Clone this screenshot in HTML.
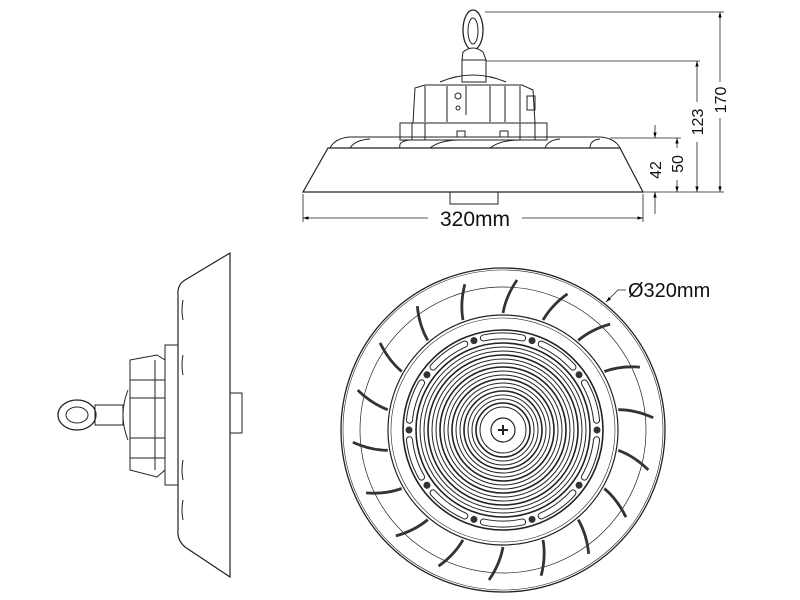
<!DOCTYPE html>
<html><head><meta charset="utf-8"><style>
html,body{margin:0;padding:0;background:#fff;}
svg{display:block;font-family:"Liberation Sans",Arial,sans-serif;}
</style></head><body>
<svg width="800" height="600" viewBox="0 0 800 600" xmlns="http://www.w3.org/2000/svg">
<defs>
<marker id="a" viewBox="0 0 10 10" refX="10" refY="5" markerWidth="7" markerHeight="7" orient="auto-start-reverse"><path d="M0,2 L10,5 L0,8 z" fill="#000"/></marker>
<path id="fin" d="M0,-117 Q3,-134 14,-150"/>
<path id="slot" d="M-19.6,-92 A94,94 0 0 1 19.6,-92"/>
</defs>
<g fill="none" stroke="#222" stroke-width="1">
<!-- TOP ELEVATION -->
<ellipse cx="473" cy="30" rx="10" ry="20" stroke-width="1.3"/>
<ellipse cx="473" cy="31" rx="5" ry="13"/>
<path d="M463,52 Q473,44 483,52 L486,60 L462,60 Z" fill="#fff"/>
<rect x="462" y="60" width="24" height="22"/>
<path d="M440,82 Q473,68 506,82"/>
<path d="M413,123 L415,88 L425,85 L522,85 L533,90 L535,123 Z"/>
<line x1="425" y1="86" x2="425" y2="122"/><line x1="447" y1="86" x2="447" y2="122"/>
<line x1="466" y1="86" x2="466" y2="115"/><line x1="490" y1="86" x2="490" y2="122"/>
<line x1="505" y1="86" x2="505" y2="122"/><line x1="520" y1="86" x2="520" y2="122"/>
<circle cx="458" cy="96" r="3"/><circle cx="458" cy="108" r="2"/>
<rect x="527" y="96" width="8" height="14"/>
<rect x="400" y="123" width="147" height="17"/>
<line x1="412" y1="123" x2="412" y2="140"/><line x1="425" y1="123" x2="425" y2="140"/><line x1="520" y1="123" x2="520" y2="140"/><line x1="535" y1="123" x2="535" y2="140"/>
<rect x="457" y="131" width="8" height="6"/><rect x="500" y="131" width="8" height="6"/>
<path d="M330,148 Q335,138 350,137 L600,137 Q615,138 620,148"/>
<path d="M350,148 Q355,140 370,139 M400,148 Q398,141 410,140 M430,148 Q440,140 460,140 M490,148 Q500,140 520,140 M545,148 Q548,140 560,139 M590,148 Q590,140 600,139"/>
<path d="M328,148 L620,148 L643,192 L303,192 Z" stroke-width="1.2"/>
<rect x="450" y="192" width="48" height="12"/>
<g stroke-width="0.8">
<line x1="485" y1="12" x2="724" y2="12"/>
<line x1="486" y1="61" x2="700" y2="61"/>
<line x1="610" y1="138" x2="681" y2="138"/>
<line x1="643" y1="192" x2="724" y2="192"/>
<line x1="303" y1="194" x2="303" y2="222"/><line x1="643" y1="194" x2="643" y2="222"/>
<line x1="720" y1="12" x2="720" y2="82" marker-start="url(#a)"/><line x1="720" y1="118" x2="720" y2="192" marker-end="url(#a)"/>
<line x1="697" y1="61" x2="697" y2="102" marker-start="url(#a)"/><line x1="697" y1="142" x2="697" y2="192" marker-end="url(#a)"/>
<line x1="677" y1="138" x2="677" y2="148" marker-start="url(#a)"/><line x1="677" y1="180" x2="677" y2="192" marker-end="url(#a)"/>
<line x1="655" y1="125" x2="655" y2="138" marker-end="url(#a)"/><line x1="655" y1="192" x2="655" y2="214" marker-start="url(#a)"/>
<line x1="303" y1="218" x2="428" y2="218" marker-start="url(#a)"/><line x1="522" y1="218" x2="643" y2="218" marker-end="url(#a)"/>
</g>
</g>
<text x="475" y="226" text-anchor="middle" font-size="21" fill="#111">320mm</text>
<g fill="#111" font-size="16" text-anchor="middle">
<text transform="translate(726,100) rotate(-90)">170</text>
<text transform="translate(703,122) rotate(-90)">123</text>
<text transform="translate(683,164) rotate(-90)">50</text>
<text transform="translate(661,170) rotate(-90)">42</text>
</g>

<!-- SIDE VIEW -->
<g fill="none" stroke="#222" stroke-width="1">
<path d="M230,253 L230,577 L185,547 Q177,540 178,530 L178,295 Q177,285 185,280 Z" stroke-width="1.2"/>
<path d="M183,300 Q181,310 183,320 M183,355 Q181,365 183,375 M183,460 Q181,470 183,480 M183,500 Q181,510 183,520"/>
<rect x="230" y="393" width="12" height="40"/>
<rect x="165" y="345" width="13" height="140"/>
<path d="M130,360 L157,355 L165,360 L165,470 L157,477 L130,470 Z"/>
<line x1="130" y1="380" x2="165" y2="380"/><line x1="130" y1="398" x2="165" y2="398"/>
<line x1="130" y1="438" x2="165" y2="438"/><line x1="130" y1="458" x2="165" y2="458"/>
<line x1="155" y1="360" x2="155" y2="470"/>
<path d="M128,390 Q118,415 128,440"/>
<rect x="95" y="405" width="28" height="20"/>
<ellipse cx="77" cy="415" rx="19" ry="15" stroke-width="1.3"/>
<ellipse cx="77" cy="415" rx="11" ry="8"/>
</g>

<!-- BOTTOM VIEW -->
<g fill="none" stroke="#222" transform="translate(503,430)">
<circle r="162" stroke-width="1.3"/>
<circle r="160" stroke-width="0.6"/>
<circle r="143" stroke-width="0.7"/>
<circle r="115" stroke-width="1.2"/>
<circle r="112" stroke-width="0.6"/>
<circle r="100" stroke-width="1.6"/>
<circle r="87" stroke-width="1.6"/>
<g stroke-width="1">
<circle r="83"/><circle r="79"/><circle r="75" stroke-width="1.6"/><circle r="71"/><circle r="67"/><circle r="63" stroke-width="1.6"/><circle r="59"/><circle r="55"/><circle r="51" stroke-width="1.6"/><circle r="47"/><circle r="43"/><circle r="39" stroke-width="1.6"/><circle r="35"/><circle r="31"/><circle r="27" stroke-width="1.6"/><circle r="23"/>
</g>
<circle r="12" stroke-width="1.2"/>
<path d="M-5,0 H5 M0,-5 V5" stroke-width="2"/>
<g stroke-width="2.8" stroke="#333">
<use href="#fin" transform="rotate(0)"/><use href="#fin" transform="rotate(20)"/><use href="#fin" transform="rotate(40)"/><use href="#fin" transform="rotate(60)"/><use href="#fin" transform="rotate(80)"/><use href="#fin" transform="rotate(100)"/><use href="#fin" transform="rotate(120)"/><use href="#fin" transform="rotate(140)"/><use href="#fin" transform="rotate(160)"/><use href="#fin" transform="rotate(180)"/><use href="#fin" transform="rotate(200)"/><use href="#fin" transform="rotate(220)"/><use href="#fin" transform="rotate(240)"/><use href="#fin" transform="rotate(260)"/><use href="#fin" transform="rotate(280)"/><use href="#fin" transform="rotate(300)"/><use href="#fin" transform="rotate(320)"/><use href="#fin" transform="rotate(340)"/>
</g>
<g fill="#333" stroke="none">
<circle cx="94" cy="0" r="3.5" transform="rotate(0)"/><circle cx="94" cy="0" r="3.5" transform="rotate(36)"/><circle cx="94" cy="0" r="3.5" transform="rotate(72)"/><circle cx="94" cy="0" r="3.5" transform="rotate(108)"/><circle cx="94" cy="0" r="3.5" transform="rotate(144)"/><circle cx="94" cy="0" r="3.5" transform="rotate(180)"/><circle cx="94" cy="0" r="3.5" transform="rotate(216)"/><circle cx="94" cy="0" r="3.5" transform="rotate(252)"/><circle cx="94" cy="0" r="3.5" transform="rotate(288)"/><circle cx="94" cy="0" r="3.5" transform="rotate(324)"/>
</g>
<g stroke="#222" stroke-width="7" stroke-linecap="round">
<use href="#slot" transform="rotate(0)"/><use href="#slot" transform="rotate(36)"/><use href="#slot" transform="rotate(72)"/><use href="#slot" transform="rotate(108)"/><use href="#slot" transform="rotate(144)"/><use href="#slot" transform="rotate(180)"/><use href="#slot" transform="rotate(216)"/><use href="#slot" transform="rotate(252)"/><use href="#slot" transform="rotate(288)"/><use href="#slot" transform="rotate(324)"/>
</g>
<g stroke="#fff" stroke-width="5" stroke-linecap="round">
<use href="#slot" transform="rotate(0)"/><use href="#slot" transform="rotate(36)"/><use href="#slot" transform="rotate(72)"/><use href="#slot" transform="rotate(108)"/><use href="#slot" transform="rotate(144)"/><use href="#slot" transform="rotate(180)"/><use href="#slot" transform="rotate(216)"/><use href="#slot" transform="rotate(252)"/><use href="#slot" transform="rotate(288)"/><use href="#slot" transform="rotate(324)"/>
</g>
</g>
<path d="M626,290 L618,290 L606,302" fill="none" stroke="#222" stroke-width="0.8" marker-end="url(#a)"/>
<text x="628" y="297" font-size="20" fill="#111">Ø320mm</text>
</svg>
</body></html>
